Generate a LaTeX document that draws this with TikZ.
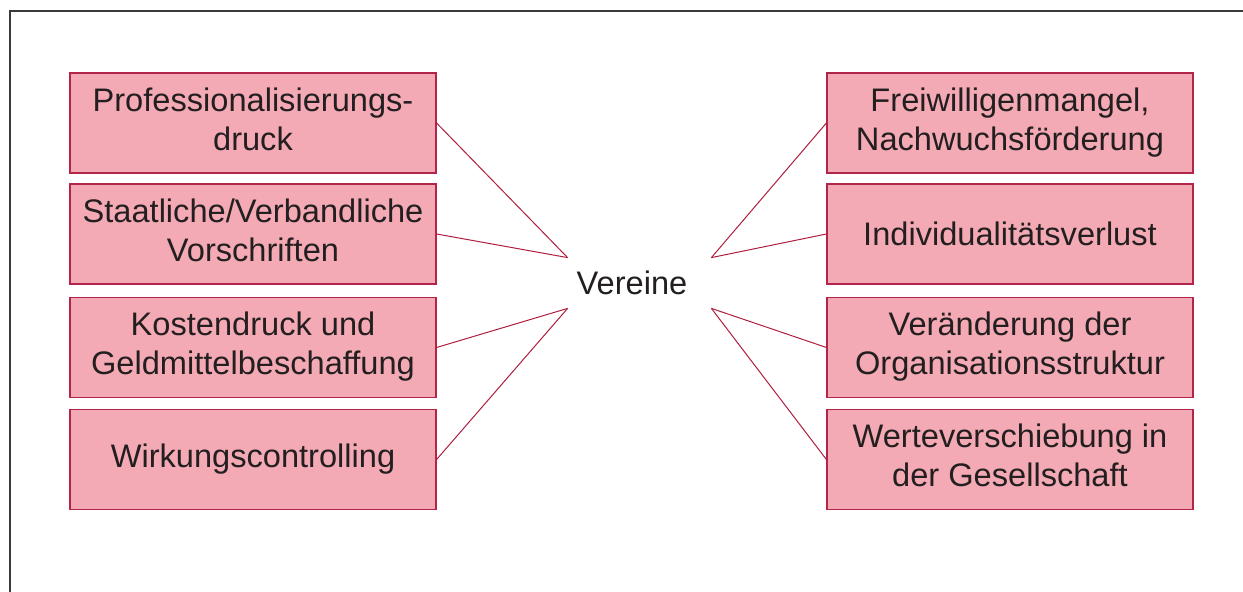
\documentclass[tikz,border=0pt]{standalone}
\usepackage{fontspec}
\setmainfont{Liberation Sans}
\definecolor{boxfill}{HTML}{F4AAB4}
\definecolor{boxline}{HTML}{B3244A}
\definecolor{conn}{HTML}{AE1E3E}
\definecolor{txt}{HTML}{231F20}
\definecolor{frame}{HTML}{3A3A3A}
\newcommand{\twol}[2]{\raisebox{-1.5pt}{\begin{tabular}{@{}c@{}}#1\\#2\end{tabular}}}
\tikzset{
  fbox/.style={draw=boxline, fill=boxfill, line width=0.6pt, minimum width=183pt, minimum height=50pt,
    inner sep=0pt, align=center, text=txt, font=\fontsize{16.3pt}{19.4pt}\selectfont},
  conline/.style={draw=conn, line width=0.5pt},
}
\begin{document}
\begin{tikzpicture}[x=0.5pt,y=-0.5pt]
\useasboundingbox (0,0) rectangle (1243,592);
\coordinate (ftl) at (10,11);
\coordinate (fbl) at (10,592);
\coordinate (ftr) at (1243,11);
\draw[frame, line width=0.8pt] (fbl) -- (ftl) -- (ftr);

\node[fbox] (l1) at (253,123) {\twol{Professionalisierungs-}{druck}};
\node[fbox] (l2) at (253,234) {\twol{Staatliche/Verbandliche}{Vorschriften}};
\node[fbox] (l3) at (253,347.5) {\twol{Kostendruck und}{Geldmittelbeschaffung}};
\node[fbox] (l4) at (253,459.5) {\raisebox{-1.5pt}{Wirkungscontrolling}};

\node[fbox] (r1) at (1010,123) {\twol{Freiwilligenmangel,}{Nachwuchsförderung}};
\node[fbox] (r2) at (1010,234) {\raisebox{-1.5pt}{Individualitätsverlust}};
\node[fbox] (r3) at (1010,347.5) {\twol{Veränderung der}{Organisationsstruktur}};
\node[fbox] (r4) at (1010,459.5) {\twol{Werteverschiebung in}{der Gesellschaft}};

\node[minimum width=71.5pt, minimum height=25pt, inner sep=0pt, text=txt,
  font=\fontsize{16.3pt}{19.4pt}\selectfont] (v) at (639.5,283) {\hspace*{-7.5pt}\raisebox{-1pt}{Vereine}};

\draw[conline] (l1.east) -- (v.north west);
\draw[conline] (l2.east) -- (v.north west);
\draw[conline] (l3.east) -- (v.south west);
\draw[conline] (l4.east) -- (v.south west);
\draw[conline] (r1.west) -- (v.north east);
\draw[conline] (r2.west) -- (v.north east);
\draw[conline] (r3.west) -- (v.south east);
\draw[conline] (r4.west) -- (v.south east);
\end{tikzpicture}
\end{document}
